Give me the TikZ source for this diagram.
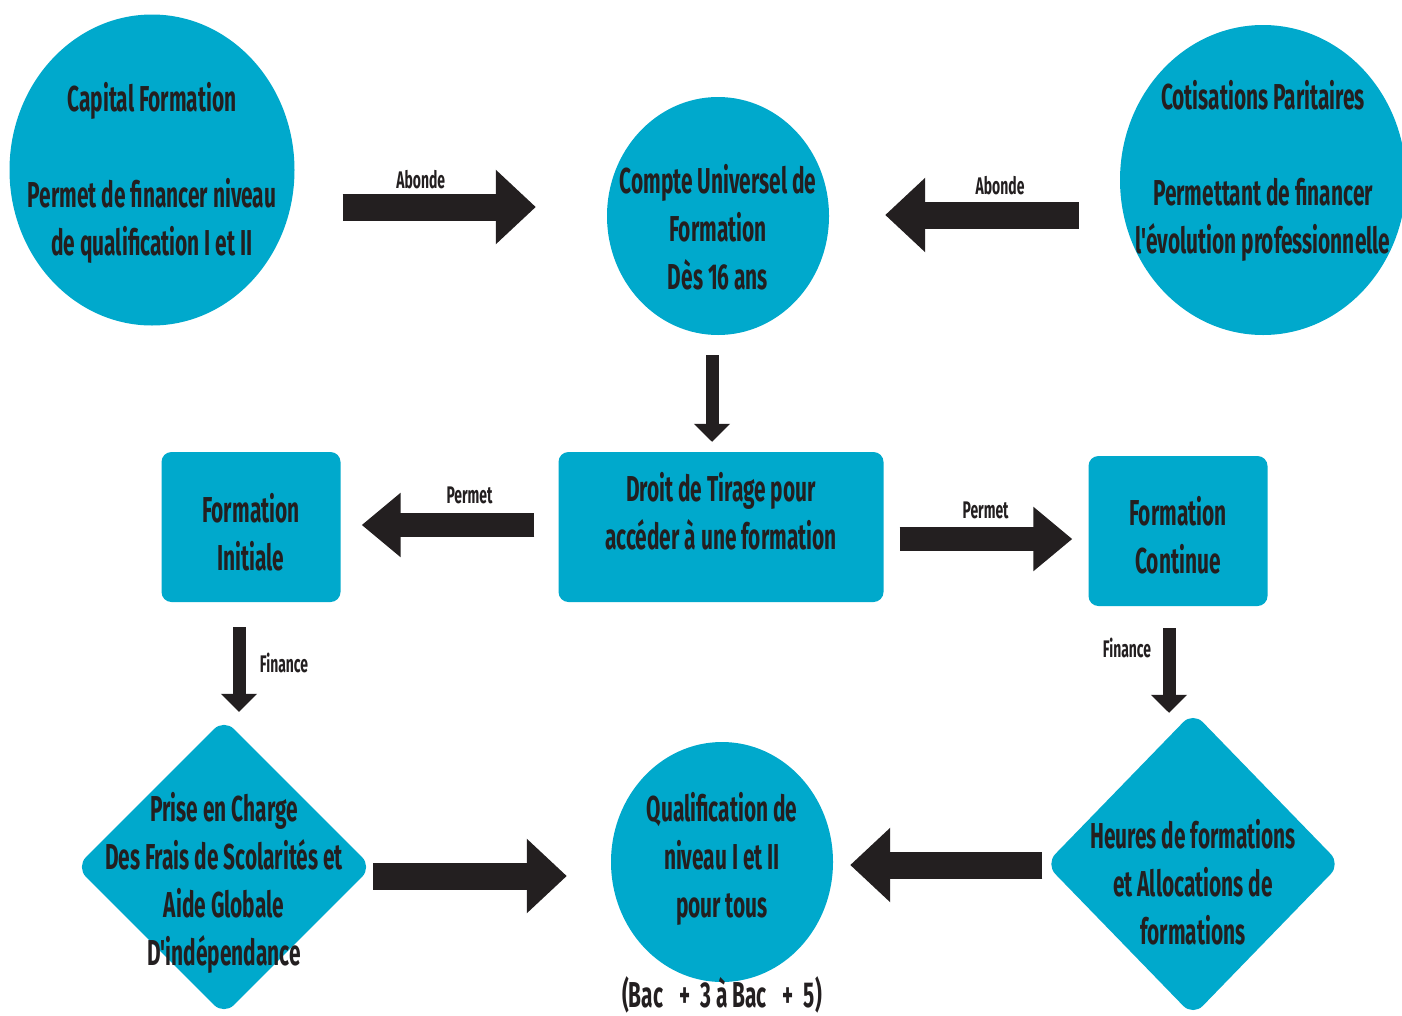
\documentclass[tikz,border=0pt]{standalone}
\usepackage{fontspec}
\newfontfamily\condfont{Fira Sans}[FakeStretch=0.58]
\usetikzlibrary{positioning,shapes.geometric,arrows.meta}

\definecolor{cufblue}{HTML}{00A9CC}
\definecolor{ink}{HTML}{231F20}

% text kept out of the shape size; #1 moves it down
\newcommand{\ctext}[2][0pt]{\makebox[0pt]{\smash{\raisebox{\dimexpr-10pt-#1\relax}{\begin{tabular}{@{}c@{}}#2\end{tabular}}}}}

\tikzset{
	disc/.style={ellipse, fill=cufblue, inner sep=0pt, text=ink, font=\condfont\bfseries\fontsize{36}{48}\selectfont},
	panel/.style={rectangle, rounded corners=10pt, fill=cufblue, inner sep=0pt, text=ink, font=\condfont\bfseries\fontsize{36}{48}\selectfont},
	gem/.style={diamond, rounded corners=14pt, fill=cufblue, inner sep=0pt, text=ink, font=\condfont\bfseries\fontsize{36}{48}\selectfont},
	fat/.style={draw=ink, line width=27pt, -{Triangle[length=40pt,width=72pt]}},
	mid/.style={draw=ink, line width=24pt, -{Triangle[length=39pt,width=62pt]}},
	slim/.style={draw=ink, line width=13pt, -{Triangle[length=18pt,width=35pt]}},
	linklabel/.style={text=ink, inner sep=0pt, font=\condfont\bfseries\fontsize{24}{30}\selectfont},
}

\begin{document}
\begin{tikzpicture}[x=1pt,y=-1pt]

	\useasboundingbox (0,0) rectangle (1402,1015);
	\fill[white] (0,0) rectangle (1402,1015);

	% TOP ROW
	\node[disc, minimum width=285, minimum height=311] (capital) at (152,170)
		{\ctext{Capital Formation\\ \\Permet de financer niveau\\de qualification I et II}};
	\node[disc, minimum width=222, minimum height=238] (compte) at (718,216)
		{\ctext[12pt]{Compte Universel de\\Formation\\Dès 16 ans}};
	\node[disc, minimum width=286, minimum height=310] (cotis) at (1263,180)
		{\ctext[-12pt]{Cotisations Paritaires\\ \\Permettant de financer\\l'évolution professionnelle}};

	% MIDDLE ROW
	\node[panel, minimum width=325, minimum height=150] (droit) at (721,527)
		{\ctext[-15pt]{Droit de Tirage pour\\accéder à une formation}};
	\node[panel, minimum width=179, minimum height=150] (initiale) at (251,527)
		{\ctext[6pt]{Formation\\Initiale}};
	\node[panel, minimum width=179, minimum height=150] (continue) at (1178,531)
		{\ctext[5pt]{Formation\\Continue}};

	% BOTTOM ROW
	\node[gem, minimum width=296, minimum height=296] (prise) at (224,867)
		{\ctext[13pt]{Prise en Charge\\Des Frais de Scolarités et\\Aide Globale\\D'indépendance}};
	\node[gem, minimum width=295, minimum height=304] (heures) at (1193,864)
		{\ctext[19pt]{Heures de formations\\et Allocations de\\formations}};
	\node[disc, minimum width=222, minimum height=240] (qualif) at (722,862)
		{\ctext[-6pt]{Qualification de\\niveau I et II\\pour tous}};
	\node[linklabel, font=\condfont\bfseries\fontsize{36}{48}\selectfont, below=-6pt of qualif] (bac)
		{(Bac\hspace{16pt}+\hspace{10pt}3 à Bac\hspace{16pt}+\hspace{10pt}5)};

	% ARROWS
	\draw[fat, shorten <=48pt, shorten >=71pt] (capital.east |- 0,207) -- (compte.west |- 0,207)
		node[linklabel, pos=.404, yshift=27pt] {Abonde};
	\draw[fat, shorten <=41pt, shorten >=56pt] (cotis.west |- 0,215) -- (compte.east |- 0,215)
		node[linklabel, pos=.412, yshift=29pt] {Abonde};
	\draw[slim, shorten <=20pt, shorten >=10pt] (compte.south -| 712,0) -- (droit.north -| 712,0);
	\draw[mid, shorten <=24pt, shorten >=21pt] (droit.west |- 0,525) -- (initiale.east |- 0,525)
		node[linklabel, pos=.408, yshift=30pt] {Permet};
	\draw[mid, shorten <=16pt, shorten >=16pt] (droit.east |- 0,539) -- (continue.west |- 0,539)
		node[linklabel, pos=.498, yshift=29pt] {Permet};
	\draw[slim, shorten <=25pt, shorten >=7pt] (initiale.south -| 239,0) -- (prise.north -| 239,0)
		node[linklabel, pos=.52, xshift=45pt] {Finance};
	\draw[slim, shorten <=22pt, shorten >=-1pt] (continue.south -| 1169,0) -- (heures.north -| 1169,0)
		node[linklabel, pos=.40, xshift=-42pt] {Finance};
	\draw[fat, shorten <=1pt, shorten >=44pt] (prise.east |- 0,876) -- (qualif.west |- 0,876);
	\draw[fat, shorten <=3pt, shorten >=17pt] (heures.west |- 0,865) -- (qualif.east |- 0,865);

\end{tikzpicture}
\end{document}
